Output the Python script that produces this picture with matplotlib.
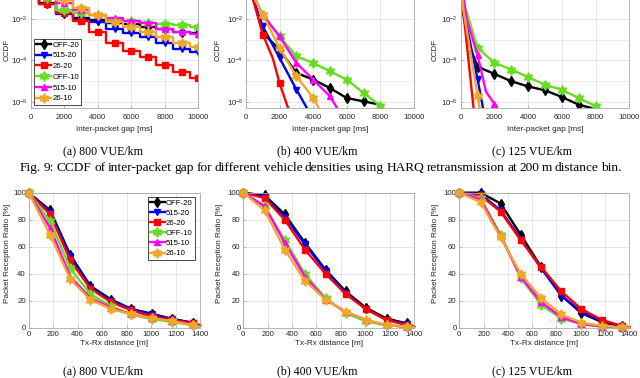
import numpy as np
import matplotlib
matplotlib.use("Agg")
import matplotlib.pyplot as plt

plt.rcParams['font.family'] = ['Liberation Sans', 'DejaVu Sans']
plt.rcParams['mathtext.fontset'] = 'custom'
plt.rcParams['mathtext.rm'] = 'Liberation Sans'
plt.rcParams['mathtext.it'] = 'Liberation Sans'

# ---------------- data ----------------
series = ["OFF-20", "515-20", "26-20", "OFF-10", "515-10", "26-10"]

# Top row: CCDF of inter-packet gap (log10 values)
gap_a = [0, 1000, 2000, 3000, 4000, 5000, 6000, 7000, 8000, 9000, 10000]
ccdf_a_log = {
    "OFF-20": [0, -1.21, -1.73, -1.94, -2.05, -2.18, -2.26, -2.37, -2.50, -2.61, -2.69],
    "515-20": [0, -1.30, -1.76, -2.05, -2.13, -2.50, -2.69, -2.85, -3.14, -3.46, -3.60],
    "26-20":  [0, -1.30, -1.73, -2.08, -2.64, -3.14, -3.53, -3.85, -4.22, -4.54, -4.84],
    "OFF-10": [0, -1.00, -1.57, -1.73, -1.81, -2.05, -2.08, -2.21, -2.24, -2.29, -2.37],
    "515-10": [0, -0.90, -1.24, -1.57, -1.81, -1.97, -2.08, -2.21, -2.48, -2.61, -2.74],
    "26-10":  [0, -0.80, -1.08, -1.48, -1.81, -2.13, -2.37, -2.61, -2.88, -3.14, -3.33],
}

gap_b = {
    "OFF-20": [0, 500, 1000, 2000, 3000, 4000, 5000, 6000, 7000, 7800],
    "515-20": [0, 400, 1000, 2000, 3000, 3700],
    "26-20":  [0, 400, 1000, 1600, 2000, 2550],
    "OFF-10": [0, 500, 1000, 2000, 3000, 4000, 5000, 6000, 7000, 8000],
    "515-10": [0, 500, 1000, 2000, 3000, 4000, 5000, 5500],
    "26-10":  [0, 500, 1000, 2000, 3000, 4000, 4400],
}
ccdf_b_log = {
    "OFF-20": [0, -1.2, -2.67, -3.48, -4.60, -4.92, -5.33, -5.81, -5.97, -6.10],
    "515-20": [0, -1.0, -2.35, -3.88, -5.40, -6.40],
    "26-20":  [0, -1.0, -2.75, -3.90, -5.10, -6.40],
    "OFF-10": [0, -1.0, -1.79, -2.84, -3.80, -4.12, -4.52, -4.92, -5.57, -6.18],
    "515-10": [0, -1.0, -1.80, -2.84, -4.12, -4.92, -5.73, -6.40],
    "26-10":  [0, -1.0, -1.79, -3.40, -4.76, -5.80, -6.40],
}

gap_c = {
    "OFF-20": [0, 100, 450, 1000, 2000, 3000, 4000, 5000, 6000, 7000, 7800],
    "515-20": [0, 150, 1000, 1350],
    "26-20":  [0, 100, 750, 800],
    "OFF-10": [0, 100, 1000, 2000, 3000, 4000, 5000, 6000, 7000, 8000],
    "515-10": [0, 350, 1000, 1500, 2000, 2250],
    "26-10":  [0, 150, 1000, 1150],
}
ccdf_c_log = {
    "OFF-20": [0, -1.5, -3.15, -4.30, -4.65, -5.00, -5.25, -5.44, -5.76, -6.13, -6.30],
    "515-20": [0, -1.5, -4.90, -6.40],
    "26-20":  [0, -1.2, -6.20, -6.50],
    "OFF-10": [0, -1.0, -3.40, -4.10, -4.44, -4.80, -5.17, -5.41, -5.81, -6.20],
    "515-10": [0, -2.0, -3.75, -5.50, -6.10, -6.40],
    "26-10":  [0, -1.5, -5.70, -6.40],
}

# Bottom row: packet reception ratio vs distance
dist = [0, 175, 340, 505, 675, 840, 1005, 1175, 1340, 1400]
prr_a = {
    "OFF-20": [100, 87, 54, 31, 21, 14, 10.6, 6.6, 4.0, 2.0],
    "515-20": [100, 86, 53, 30, 20, 14, 10, 6.5, 3.8, 1.8],
    "26-20":  [100, 84, 50, 29, 19, 13, 8.6, 6.0, 3.5, 1.5],
    "OFF-10": [100, 79, 44, 25, 16, 10, 6.6, 4.5, 2.0, 1.0],
    "515-10": [100, 74, 38, 22, 15, 10, 7.5, 5.0, 2.5, 1.0],
    "26-10":  [100, 69, 36, 21, 14, 10, 7.4, 5.0, 2.0, 1.0],
}
prr_b = {
    "OFF-20": [100, 98, 84, 63, 43, 27, 15, 7, 3.4, 1.0],
    "515-20": [100, 97, 82, 62, 42, 26, 14, 6, 3.0, 1.0],
    "26-20":  [100, 96, 80, 58, 40, 25, 14, 6, 2.0, 1.0],
    "OFF-10": [100, 90, 65, 40, 22, 11, 5, 2, 1.0, 0.5],
    "515-10": [100, 90, 63, 38, 21, 12, 6, 2, 1.0, 0.5],
    "26-10":  [100, 87, 58, 35, 21, 12, 6, 2, 1.0, 0.5],
}
prr_c = {
    "OFF-20": [100, 100, 92, 69, 45, 24, 11, 4.4, 1.2, 0.5],
    "515-20": [100, 99, 87, 66, 44, 24, 12, 5, 1.5, 0.5],
    "26-20":  [100, 98, 86, 65, 45, 27, 14, 6, 1.5, 0.5],
    "OFF-10": [100, 96, 69, 37, 17, 7, 3, 1, 0.3, 0.1],
    "515-10": [100, 95, 68, 38, 19, 8, 3, 1, 0.3, 0.1],
    "26-10":  [100, 93, 67, 40, 22, 10, 4, 1.5, 0.5, 0.2],
}

panel_captions = ["(a) 800 VUE/km", "(b) 400 VUE/km", "(c) 125 VUE/km"]
fig_caption = ("Fig. 9: CCDF of inter-packet gap for different vehicle densities "
               "using HARQ retransmission at 200 m distance bin.")

# ---------------- style ----------------
colors = {"OFF-20": "#000000", "515-20": "#0000ff", "26-20": "#ff0000",
          "OFF-10": "#66dd22", "515-10": "#ff00ff", "26-10": "#f0a828"}
markers = {"OFF-20": "d", "515-20": "v", "26-20": "s",
           "OFF-10": (6, 1, 0), "515-10": "^", "26-10": (6, 1, 0)}
msize = {"OFF-20": 5, "515-20": 5, "26-20": 4.5, "OFF-10": 7, "515-10": 5, "26-10": 7}

W, H = 640, 378
fig = plt.figure(figsize=(W / 100, H / 100), dpi=100)

FS = 5.6
grid_c = '#dcdcdc'
spine_c = '#a8a8a8'
tick_c = '#262626'


def style_axes(ax, pad=2):
    for s in ax.spines.values():
        s.set_color(spine_c)
        s.set_linewidth(0.6)
    ax.tick_params(direction='in', length=2, width=0.5, colors=spine_c,
                   labelcolor=tick_c, labelsize=FS, pad=2)
    ax.tick_params(axis='x', pad=pad)
    ax.tick_params(which='minor', direction='in', length=1, width=0.4, colors=spine_c)
    ax.grid(True, which='major', color=grid_c, lw=0.5)
    ax.set_axisbelow(True)


def fig_rect(l, r, top, bottom):
    return [l / W, 1 - bottom / H, (r - l) / W, (bottom - top) / H]


top_rects = [fig_rect(30.7, 198.3, -22.5, 108), fig_rect(246, 414, -22.5, 108),
             fig_rect(460.7, 629.3, -22.5, 108)]
bot_rects = [fig_rect(28.7, 200, 192.7, 328), fig_rect(243.3, 414, 192.7, 328),
             fig_rect(459.3, 629.3, 192.7, 328)]
top_ylab_x = [-0.141, -0.167, -0.152]
bot_ylab_x = [-0.125, -0.14, -0.14]

# ----- top row -----
for i, rect in enumerate(top_rects):
    ax = fig.add_axes(rect)
    style_axes(ax, pad=4.5)
    ax.set_yscale('log')
    for s in series:
        if i == 0:
            x = np.array(gap_a, float)
            y = 10.0 ** np.array(ccdf_a_log[s])
            ds = 'steps-mid'
        elif i == 1:
            x = np.array(gap_b[s], float)
            y = 10.0 ** np.array(ccdf_b_log[s])
            ds = 'default'
        else:
            x = np.array(gap_c[s], float)
            y = 10.0 ** np.array(ccdf_c_log[s])
            ds = 'default'
        me = [k for k, v in enumerate(x) if v > 0 and v % 1000 == 0]
        ax.plot(x, y, color=colors[s], lw=1.7, marker=markers[s], ms=msize[s],
                markevery=me, drawstyle=ds, label=s)
    ax.set_xlim(0, 10000)
    ax.set_ylim(10 ** -6.29, 1)
    ax.set_xticks([0, 2000, 4000, 6000, 8000, 10000])
    ax.set_yticks([1e-6, 1e-4, 1e-2])
    ax.set_yticklabels([r'$10^{-6}$', r'$10^{-4}$', r'$10^{-2}$'])
    ax.yaxis.set_minor_locator(matplotlib.ticker.LogLocator(base=10, subs=(1.0,), numticks=20))
    ax.yaxis.set_minor_formatter(matplotlib.ticker.NullFormatter())
    ax.grid(True, which='minor', axis='y', color='#e4e4e4', lw=0.5)
    ax.set_xlabel('Inter-packet gap [ms]', fontsize=FS + 0.3, color=tick_c)
    ax.xaxis.set_label_coords(0.5, -0.165)
    ax.xaxis.label.set_va('center')
    ax.set_ylabel('CCDF', fontsize=FS + 0.3, color=tick_c)
    ax.yaxis.set_label_coords(top_ylab_x[i], 0.444)
    ax.yaxis.label.set_va('center')
    if i == 0:
        leg = ax.legend(loc='upper left', bbox_to_anchor=(0.02, 0.529), borderaxespad=0,
                        fontsize=FS, fancybox=False, framealpha=1, edgecolor='#000000',
                        handlelength=1.9, handletextpad=0.15, labelspacing=0.42,
                        borderpad=0.3)
        leg.get_frame().set_linewidth(0.5)

# ----- bottom row -----
prr_all = [prr_a, prr_b, prr_c]
for i, rect in enumerate(bot_rects):
    ax = fig.add_axes(rect)
    style_axes(ax, pad=2.5)
    for s in series:
        ax.plot(dist, prr_all[i][s], color=colors[s], lw=1.7, marker=markers[s],
                ms=msize[s], markevery=list(range(len(dist) - 1)), label=s,
                clip_on=False)
    ax.set_xlim(0, 1400)
    ax.set_ylim(0, 100)
    ax.set_xticks(range(0, 1401, 200))
    ax.set_yticks(range(0, 101, 20))
    ax.set_xlabel('Tx-Rx distance [m]', fontsize=FS + 0.3, color=tick_c)
    ax.xaxis.set_label_coords(0.5, -0.118)
    ax.xaxis.label.set_va('center')
    ax.set_ylabel('Packet Reception Ratio [%]', fontsize=FS + 0.3, color=tick_c)
    ax.yaxis.set_label_coords(bot_ylab_x[i], 0.55)
    ax.yaxis.label.set_va('center')
    if i == 0:
        leg = ax.legend(loc='upper right', bbox_to_anchor=(0.971, 0.970), borderaxespad=0,
                        fontsize=FS, fancybox=False, framealpha=1, edgecolor='#000000',
                        handlelength=1.9, handletextpad=0.15, labelspacing=0.35,
                        borderpad=0.3)
        leg.get_frame().set_linewidth(0.5)

# ----- captions -----
serif = ['Liberation Serif', 'DejaVu Serif']
CAP_FS = 8.6
cap_x = [103, 317, 532]
for cx, txt in zip(cap_x, panel_captions):
    fig.text(cx / W, 1 - 151 / H, txt, ha='center', va='center', fontsize=CAP_FS, family=serif)
    fig.text(cx / W, 1 - 371 / H, txt, ha='center', va='center', fontsize=CAP_FS, family=serif)

# justified figure caption line (spans x = 20..622 px)
renderer = fig.canvas.get_renderer()
words = fig_caption.split()
tobjs = [fig.text(0, 1 - 168 / H, w, ha='left', va='center', fontsize=9.6, family=serif)
         for w in words]
widths = [t.get_window_extent(renderer).width for t in tobjs]
x0, x1 = 20.0, 622.0
gap = (x1 - x0 - sum(widths)) / (len(words) - 1)
xc = x0
for t, w in zip(tobjs, widths):
    t.set_x(xc / W)
    xc += w + gap

fig.savefig('out.png', dpi=100)
